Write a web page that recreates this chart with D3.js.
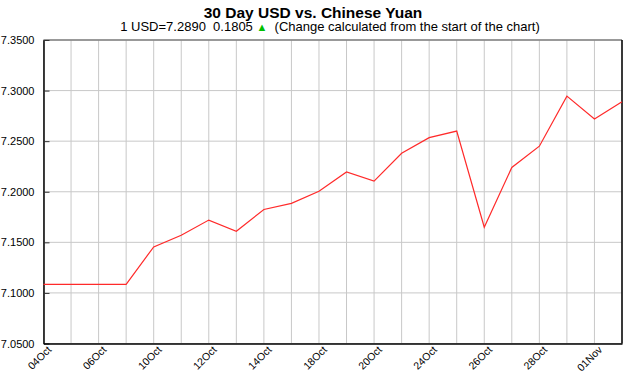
<!DOCTYPE html>
<html>
<head>
<meta charset="utf-8">
<script src="https://cdn.jsdelivr.net/npm/d3@7"></script>
<style>
  body { margin: 0; background: #fff; }
  svg text { font-family: "Liberation Sans", Arial, sans-serif; }
</style>
</head>
<body>
<svg id="chart" width="630" height="375"></svg>
<script>
// trading days shown on the chart
var dates = ["04Oct","05Oct","06Oct","07Oct","10Oct","11Oct","12Oct","13Oct","14Oct","17Oct","18Oct",
             "19Oct","20Oct","21Oct","24Oct","25Oct","26Oct","27Oct","28Oct","31Oct","01Nov","02Nov"];
var rates = [7.1085, 7.1085, 7.1085, 7.1085, 7.1455, 7.1570, 7.1720, 7.1610, 7.1825, 7.1885, 7.2005,
             7.2195, 7.2105, 7.2380, 7.2535, 7.2600, 7.1650, 7.2240, 7.2450, 7.2945, 7.2720, 7.2890];
var yTicks = [7.05, 7.10, 7.15, 7.20, 7.25, 7.30, 7.35];
var labelEvery = 2;

var title = "30 Day USD vs. Chinese Yuan";
var last = rates[rates.length - 1], change = last - rates[0];

var svg = d3.select("#chart");
var margin = {left: 43.5, right: 8, top: 40, bottom: 31.5};
var W = 630, H = 375;

var x = d3.scalePoint().domain(dates).range([margin.left, W - margin.right]);
var y = d3.scaleLinear().domain([7.05, 7.35]).range([H - margin.bottom, margin.top]);

// titles
svg.append("text")
  .attr("x", 313).attr("y", 18)
  .attr("text-anchor", "middle")
  .attr("font-size", 15.5).attr("font-weight", "bold")
  .text(title);

var sub = svg.append("text")
  .attr("x", 330).attr("y", 31)
  .attr("text-anchor", "middle")
  .attr("font-size", 13)
  .style("white-space", "pre");
sub.append("tspan").text("1 USD=" + last.toFixed(4) + "  " + change.toFixed(4) + " ");
sub.append("tspan").attr("fill", "#00c000").attr("font-size", 11).text("\u25B2");
sub.append("tspan").text("  (Change calculated from the start of the chart)");

// grid
svg.append("g")
  .selectAll("line").data(dates).enter().append("line")
  .attr("x1", function(d) { return x(d); }).attr("x2", function(d) { return x(d); })
  .attr("y1", margin.top).attr("y2", H - margin.bottom)
  .attr("stroke", "#c8c8c8").attr("stroke-width", 1);

svg.append("g")
  .selectAll("line").data(yTicks).enter().append("line")
  .attr("x1", margin.left).attr("x2", W - margin.right)
  .attr("y1", function(d) { return y(d); }).attr("y2", function(d) { return y(d); })
  .attr("stroke", "#c8c8c8").attr("stroke-width", 1);

// frame
svg.append("line")
  .attr("x1", margin.left).attr("x2", W - margin.right)
  .attr("y1", margin.top).attr("y2", margin.top)
  .attr("stroke", "#808080").attr("stroke-width", 1.5);
svg.append("line")
  .attr("x1", W - margin.right).attr("x2", W - margin.right)
  .attr("y1", margin.top).attr("y2", H - margin.bottom)
  .attr("stroke", "#000").attr("stroke-width", 1.5);

// y axis
var yAxis = d3.axisLeft(y).tickValues(yTicks).tickFormat(d3.format(".4f")).tickSizeInner(-6).tickSizeOuter(0).tickPadding(3);
var gy = svg.append("g").attr("transform", "translate(" + margin.left + ",0)").call(yAxis);
gy.select(".domain").attr("stroke", "#000").attr("stroke-width", 1.5);
gy.selectAll(".tick line").attr("stroke", "#333");
gy.selectAll("text").attr("font-size", 11).attr("fill", "#000").attr("dx", -6)
  .style("font-family", "'Liberation Sans', Arial, sans-serif");

// x axis
var xAxis = d3.axisBottom(x).tickValues(dates.filter(function(d, i) { return i % labelEvery === 0; })).tickSize(0).tickPadding(0);
var gx = svg.append("g").attr("transform", "translate(0," + (H - margin.bottom) + ")").call(xAxis);
gx.select(".domain").attr("stroke", "#000").attr("stroke-width", 1.5);
gx.selectAll("text")
  .attr("font-size", 10.5).attr("fill", "#000")
  .attr("text-anchor", "end")
  .attr("dy", null).attr("y", null)
  .attr("transform", "translate(8,7) rotate(-45)")
  .style("font-family", "'Liberation Sans', Arial, sans-serif");

// rate line
var line = d3.line()
  .x(function(d, i) { return x(dates[i]); })
  .y(function(d) { return y(d); });

svg.append("path")
  .datum(rates)
  .attr("d", line)
  .attr("fill", "none")
  .attr("stroke", "#ff2a2a")
  .attr("stroke-width", 1.2);
</script>
</body>
</html>
